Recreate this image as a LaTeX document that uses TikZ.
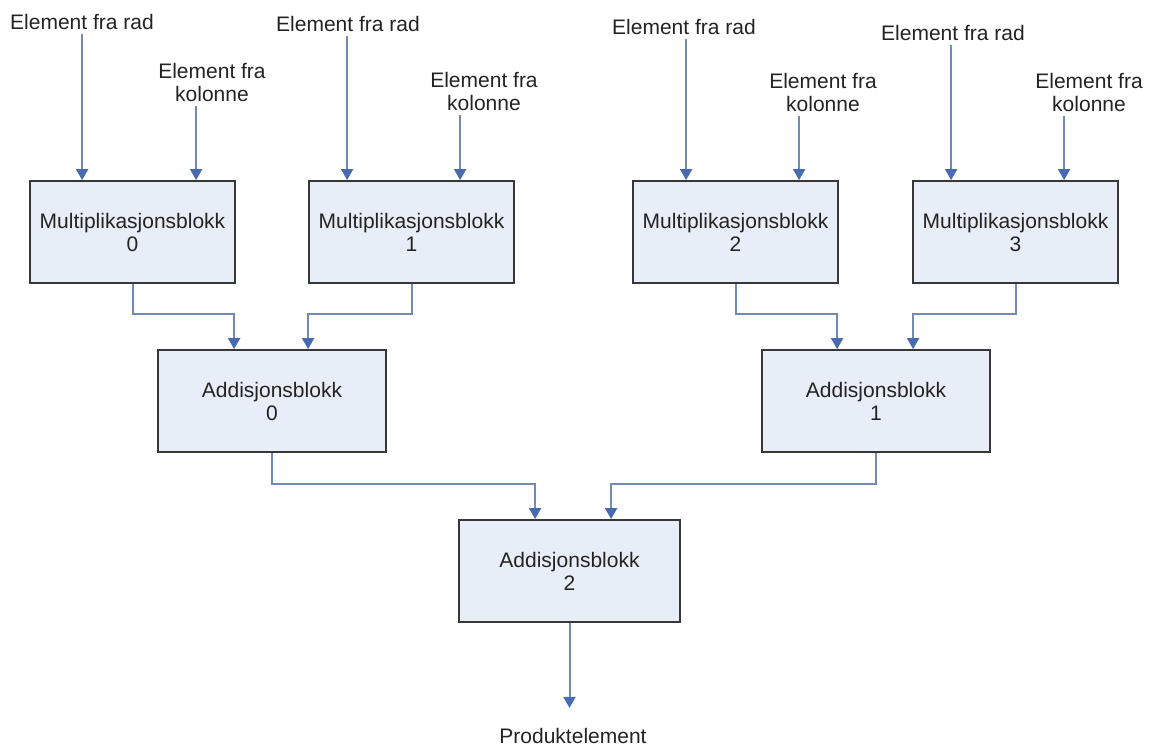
\documentclass[tikz,border=0pt]{standalone}
\usepackage{fontspec}
\setmainfont{Liberation Sans}
\usetikzlibrary{arrows.meta}
\definecolor{boxfill}{RGB}{232,238,247}
\definecolor{boxline}{RGB}{55,55,55}
\definecolor{wirecol}{RGB}{115,138,180}
\definecolor{tipcol}{RGB}{72,106,175}
\definecolor{txtcol}{RGB}{35,35,35}
\begin{document}
\begin{tikzpicture}[x=0.5pt,y=-0.5pt]
  \tikzstyle{every node}=[font=\fontsize{10.5}{11.5}\selectfont,text=txtcol,align=center,inner sep=2pt]
  \tikzstyle{mblock}=[draw=boxline,fill=boxfill,line width=0.9pt,minimum width=102.5pt,minimum height=51pt]
  \tikzstyle{ablock}=[mblock,minimum width=114pt]
  \tikzstyle{wire}=[draw=wirecol,line width=1pt,-{Triangle[width=6pt,length=5.5pt,color=tipcol]}]
  \useasboundingbox (0,0) rectangle (1154,748);
  \node[mblock] (m0) at (132.5,232) {Multiplikasjonsblokk\\0};
  \node[mblock] (m1) at (411.5,232) {Multiplikasjonsblokk\\1};
  \node[mblock] (m2) at (735.5,232) {Multiplikasjonsblokk\\2};
  \node[mblock] (m3) at (1015.5,232) {Multiplikasjonsblokk\\3};
  \node[ablock] (a0) at (272,401) {Addisjonsblokk\\0};
  \node[ablock] (a1) at (876,401) {Addisjonsblokk\\1};
  \node[ablock,minimum width=110.5pt] (a2) at (569.5,571) {Addisjonsblokk\\2};
  \node (r0) at (82,22) {Element fra rad};
  \node (r1) at (348,24) {Element fra rad};
  \node (r2) at (684,27) {Element fra rad};
  \node (r3) at (953,33) {Element fra rad};
  \node (k0) at (212,82) {Element fra\\kolonne};
  \node (k1) at (484,91) {Element fra\\kolonne};
  \node (k2) at (823,92) {Element fra\\kolonne};
  \node (k3) at (1089,92) {Element fra\\kolonne};
  \node (prod) at (573,736) {Produktelement};
  \coordinate (m0a) at ([xshift=26.5pt]m0.north west);
  \coordinate (m0b) at ([xshift=83.5pt]m0.north west);
  \coordinate (m1a) at ([xshift=19.5pt]m1.north west);
  \coordinate (m1b) at ([xshift=76pt]m1.north west);
  \coordinate (m2a) at ([xshift=27pt]m2.north west);
  \coordinate (m2b) at ([xshift=83.5pt]m2.north west);
  \coordinate (m3a) at ([xshift=19.5pt]m3.north west);
  \coordinate (m3b) at ([xshift=76pt]m3.north west);
  \coordinate (a0a) at ([xshift=38.5pt]a0.north west);
  \coordinate (a0b) at ([xshift=75.5pt]a0.north west);
  \coordinate (a1a) at ([xshift=38pt]a1.north west);
  \coordinate (a1b) at ([xshift=76pt]a1.north west);
  \coordinate (a2a) at ([xshift=38.5pt]a2.north west);
  \coordinate (a2b) at ([xshift=76.5pt]a2.north west);
  \draw[wire] (r0.south -| m0a) -- (m0a);
  \draw[wire] (k0.south -| m0b) -- (m0b);
  \draw[wire] (r1.south -| m1a) -- (m1a);
  \draw[wire] (k1.south -| m1b) -- (m1b);
  \draw[wire] (r2.south -| m2a) -- (m2a);
  \draw[wire] (k2.south -| m2b) -- (m2b);
  \draw[wire] (r3.south -| m3a) -- (m3a);
  \draw[wire] (k3.south -| m3b) -- (m3b);
  \draw[wire] (m0.south) -- ++(0,30) -| (a0a);
  \draw[wire] (m1.south) -- ++(0,30) -| (a0b);
  \draw[wire] (m2.south) -- ++(0,30) -| (a1a);
  \draw[wire] (m3.south) -- ++(0,30) -| (a1b);
  \draw[wire] (a0.south) -- ++(0,31) -| (a2a);
  \draw[wire] (a1.south) -- ++(0,31) -| (a2b);
  \draw[wire,shorten >=8pt] (a2.south) -- (a2.south |- prod.north);
\end{tikzpicture}
\end{document}
